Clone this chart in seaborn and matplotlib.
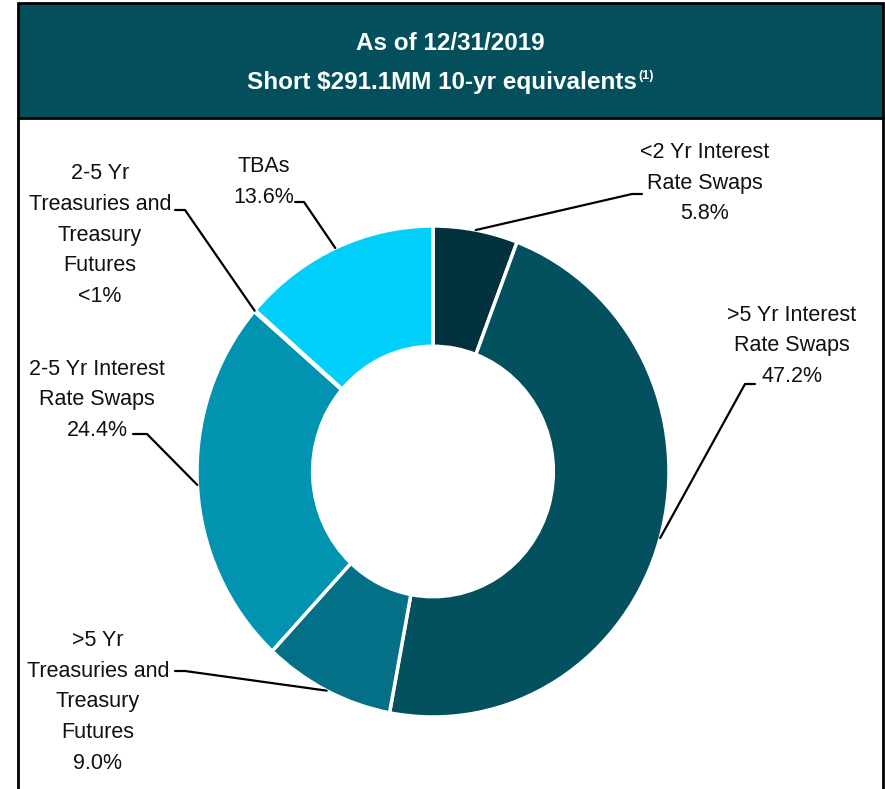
"""
Donut chart: short 10-yr equivalents breakdown as of 12/31/2019.
"""

import matplotlib
matplotlib.use("Agg")
import matplotlib.pyplot as plt
from matplotlib.patches import Rectangle
import numpy as np
import seaborn as sns

W, H = 885, 789
CX, CY = 433, 471.5      # donut centre in pixels
RX, RY = 236, 245.5      # outer radius in pixels (picture is slightly stretched)

categorias = [
    "<2 Yr Interest\nRate Swaps",
    ">5 Yr Interest\nRate Swaps",
    ">5 Yr\nTreasuries and\nTreasury\nFutures",
    "2-5 Yr Interest\nRate Swaps",
    "2-5 Yr\nTreasuries and\nTreasury\nFutures",
    "TBAs",
]
valores = [5.8, 47.2, 9.0, 24.4, 0.1, 13.6]
rotulos_valor = ["5.8%", "47.2%", "9.0%", "24.4%", "<1%", "13.6%"]
cores = ["#02323D", "#03505F", "#037088", "#0193AF", "#0193AF", "#00CFFA"]

# text centre (px), elbow: where the short horizontal tick starts / ends (px)
POS_TEXTO = [(705, 183), (792, 346), (98, 702), (97, 400), (100, 235), (264, 182)]
COTOVELO = [((642, 194), (632, 194)), ((755, 384), (745, 384)),
            ((175, 671), (185, 671)), ((133, 434), (147, 434)),
            ((175, 210), (185, 210)), ((295, 202), (304, 202))]

FONTE = ["Liberation Sans Narrow", "Liberation Sans", "DejaVu Sans"]


def px(x, y):
    return (x - CX) / RX, (CY - y) / RY


def main():
    sns.set_theme(style="white")
    plt.rcParams["font.family"] = FONTE

    fig = plt.figure(figsize=(W / 100, H / 100), dpi=100)
    ax = fig.add_axes([0, 0, 1, 1])

    wedges, _ = ax.pie(valores, colors=cores, startangle=90, counterclock=False,
                       radius=1, wedgeprops=dict(width=0.49, edgecolor="white", linewidth=2.5))
    ax.set_aspect("auto")
    ax.set_xlim(px(0, 0)[0], px(W, 0)[0])
    ax.set_ylim(px(0, H)[1], px(0, 0)[1])
    ax.set_axis_off()

    # frame and header band
    x0, y0 = px(18, 118)
    x1, y1 = px(883, 3)
    ax.add_patch(Rectangle((x0, y0), x1 - x0, y1 - y0, facecolor="#03505C",
                           edgecolor="black", linewidth=2, clip_on=False, zorder=3))
    xa, ya = px(18, H + 5)
    xb, yb = px(883, 118)
    ax.plot([xa, xa], [ya, yb], color="black", lw=2, clip_on=False, zorder=3)
    ax.plot([xb, xb], [ya, yb], color="black", lw=2, clip_on=False, zorder=3)

    ax.text(*px(450, 43), "As of 12/31/2019", ha="center", va="center", color="white",
            fontsize=17.5, fontweight="bold", zorder=4)
    t2 = ax.text(*px(442, 83), "Short $291.1MM 10-yr equivalents", ha="center", va="center",
                 color="white", fontsize=17.5, fontweight="bold", zorder=4)
    fig.canvas.draw()
    bb = t2.get_window_extent()
    xs, _ = px(bb.x1 + 1, 0)
    ax.text(xs, px(0, 76)[1], "(1)", ha="left", va="center", color="white",
            fontsize=9, fontweight="bold", zorder=4)

    # labels with leader lines to the middle of each wedge's outer edge
    for w, cat, val, pos, (pa, pb) in zip(wedges, categorias, rotulos_valor, POS_TEXTO, COTOVELO):
        ang = np.deg2rad((w.theta1 + w.theta2) / 2)
        ax.text(*px(*pos), f"{cat}\n{val}", ha="center", va="center", fontsize=15.5,
                linespacing=1.62, color="#111111")
        a = px(*pa)
        b = px(*pb)
        ax.plot([a[0], b[0], np.cos(ang)], [a[1], b[1], np.sin(ang)],
                color="black", lw=1.6, clip_on=False, zorder=5)

    fig.savefig("out.png", dpi=100, facecolor="white")
    plt.close(fig)


if __name__ == "__main__":
    main()
